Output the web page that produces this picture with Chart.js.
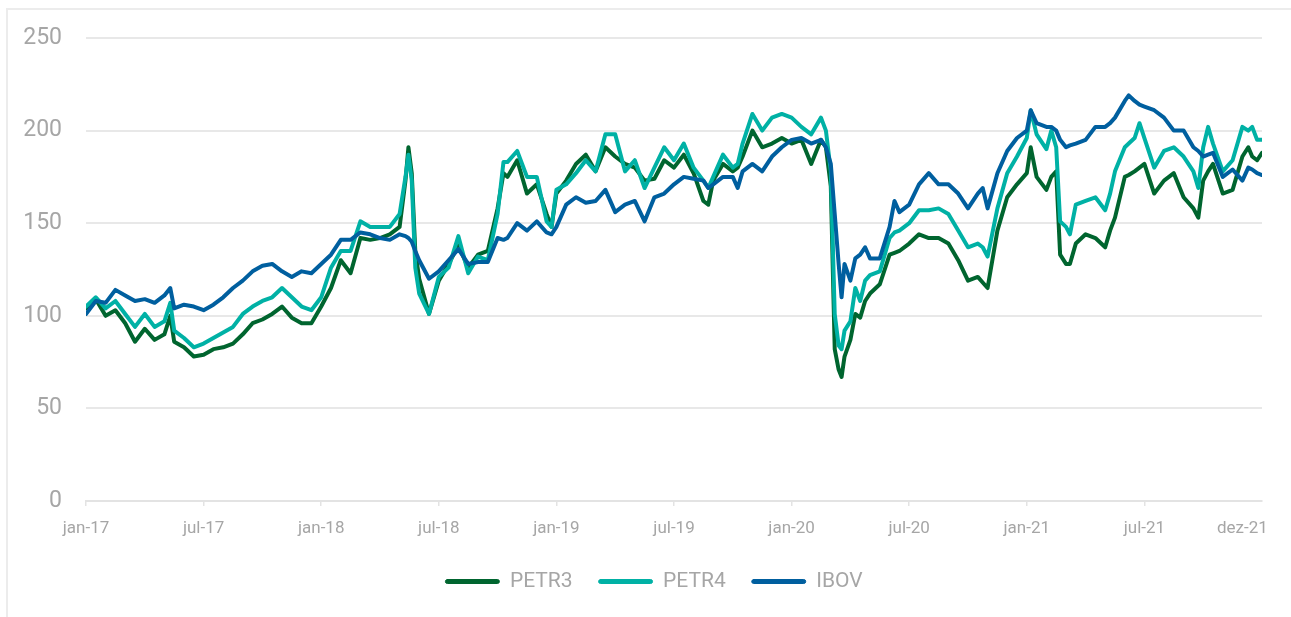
<!DOCTYPE html>
<html>
<head>
<meta charset="utf-8">
<script src="https://cdn.jsdelivr.net/npm/chart.js@4/dist/chart.umd.min.js"></script>
<style>
	html, body { margin: 0; padding: 0; background: #fff; }
	#wrap { position: relative; width: 1291px; height: 617px; overflow: hidden; }
	#frame { position: absolute; left: 6px; top: 8px; right: 0; bottom: 0;
		border-top: 2px solid #ececec; border-left: 2px solid #ececec; }
	#chart { position: absolute; left: 0; top: 0; }
</style>
</head>
<body>
<div id="wrap">
	<div id="frame"></div>
	<canvas id="chart" width="1291" height="617"></canvas>
</div>
<script>
// months since jan-17 for each observation
const months = [
	0, 0.5, 1, 1.5, 2, 2.5, 3, 3.5, 4, 4.3, 4.5, 5, 5.5, 6, 6.5, 7, 7.5, 8, 8.5, 9, 9.5,
	10, 10.5, 11, 11.5, 12, 12.5, 13, 13.5, 14, 14.5, 15, 15.5, 16, 16.3, 16.45, 16.62, 16.8, 17, 17.5,
	18, 18.5, 19, 19.5, 20, 20.5, 21, 21.3, 21.5, 22, 22.5, 23, 23.5, 23.75,
	24, 24.5, 25, 25.5, 26, 26.5, 27, 27.5, 28, 28.5, 29, 29.5,
	30, 30.5, 31, 31.5, 31.75, 32, 32.5, 33, 33.25, 33.5, 34, 34.5, 35, 35.5,
	36, 36.5, 37, 37.5, 37.75, 38, 38.2, 38.4, 38.55, 38.7, 39, 39.25, 39.5, 39.75, 40, 40.5, 41, 41.25, 41.5,
	42, 42.5, 43, 43.5, 44, 44.5, 45, 45.5, 45.75, 46, 46.5, 47, 47.5,
	48, 48.2, 48.5, 49, 49.25, 49.5, 49.7, 50, 50.2, 50.5, 51, 51.5, 52, 52.25, 52.5, 53, 53.2, 53.5, 53.75,
	54, 54.5, 55, 55.5, 56, 56.5, 56.75, 57, 57.25, 57.5, 58, 58.5, 59, 59.3, 59.5, 59.75, 60
];
const petr3 = [
	104, 109, 100, 103, 96, 86, 93, 87, 90, 100, 86, 83, 78, 79, 82, 83, 85, 90, 96, 98, 101,
	105, 99, 96, 96, 105, 115, 130, 123, 142, 141, 142, 144, 148, 173, 191, 177, 135, 120, 101,
	119, 128, 138, 126, 133, 135, 158, 177, 175, 184, 166, 171, 155, 148,
	166, 173, 182, 187, 178, 191, 186, 182, 180, 173, 174, 184,
	180, 187, 177, 162, 160, 173, 182, 178, 180, 186, 200, 191, 193, 196,
	193, 195, 182, 195, 191, 170, 82, 71, 67, 78, 87, 101, 99, 108, 112, 117, 133, 134, 135,
	139, 144, 142, 142, 139, 130, 119, 121, 118, 115, 146, 164, 171,
	177, 191, 175, 168, 175, 178, 133, 128, 128, 139, 144, 142, 137, 146, 153, 175, 176, 178, 180,
	182, 166, 173, 177, 164, 158, 153, 173, 178, 182, 166, 168, 186, 191, 186, 184, 188
];
const petr4 = [
	105, 110, 104, 108, 101, 94, 101, 94, 97, 107, 92, 88, 83, 85, 88, 91, 94, 101, 105, 108, 110,
	115, 110, 105, 103, 110, 126, 135, 135, 151, 148, 148, 148, 155, 175, 187, 173, 126, 112, 101,
	121, 126, 143, 123, 132, 130, 155, 183, 183, 189, 175, 175, 151, 148,
	168, 171, 177, 184, 178, 198, 198, 178, 184, 169, 180, 191,
	184, 193, 180, 173, 169, 175, 187, 180, 182, 193, 209, 200, 207, 209,
	207, 202, 198, 207, 200, 178, 101, 84, 82, 92, 97, 115, 108, 119, 122, 124, 142, 145, 146,
	150, 157, 157, 158, 155, 146, 137, 139, 137, 132, 158, 177, 186,
	196, 211, 198, 190, 200, 191, 151, 148, 144, 160, 162, 164, 157, 166, 178, 191, 193, 196, 204,
	196, 180, 189, 191, 186, 178, 169, 191, 202, 193, 178, 184, 202, 200, 202, 195, 195
];
const ibov = [
	101, 108, 107, 114, 111, 108, 109, 107, 111, 115, 104, 106, 105, 103, 106, 110, 115, 119, 124, 127, 128,
	124, 121, 124, 123, 128, 133, 141, 141, 145, 144, 142, 141, 144, 143, 142, 140, 135, 130, 120,
	124, 130, 136, 128, 129, 129, 142, 141, 142, 150, 146, 151, 145, 144,
	148, 160, 164, 161, 162, 168, 156, 160, 162, 151, 164, 166,
	171, 175, 174, 173, 169, 171, 175, 175, 169, 178, 182, 178, 186, 191,
	195, 196, 193, 195, 191, 182, 155, 128, 110, 128, 119, 131, 133, 137, 131, 131, 148, 162, 156,
	160, 171, 177, 171, 171, 166, 158, 166, 169, 158, 177, 189, 196,
	200, 211, 204, 202, 202, 200, 195, 191, 192, 193, 195, 202, 202, 204, 207, 216, 219, 216, 214,
	213, 211, 207, 200, 200, 191, 189, 186, 187, 188, 175, 179, 173, 180, 179, 177, 176
];
const tickMonths = [0, 6, 12, 18, 24, 30, 36, 42, 48, 54, 59];
const tickLabels = ['jan-17', 'jul-17', 'jan-18', 'jul-18', 'jan-19', 'jul-19', 'jan-20', 'jul-20', 'jan-21', 'jul-21', 'dez-21'];

const GREY = '#a6a6a6';
const FONT = 'Roboto, "Noto Sans", sans-serif';

function pts(values){
	return values.map((v, i) => ({ x: months[i], y: v }));
}
function line(label, values, color){
	return {
		label: label,
		data: pts(values),
		borderColor: color,
		backgroundColor: color,
		borderWidth: 4,
		pointRadius: 0,
		tension: 0,
		borderJoinStyle: 'round',
		borderCapStyle: 'round'
	};
}

// legend sits a little right of the canvas centre in the original
const shiftLegend = {
	id: 'shiftLegend',
	afterLayout(chart){
		if(!chart.legend) return;
		chart.legend.left += 20;
		chart.legend.right += 20;
	}
};

new Chart(document.getElementById('chart').getContext('2d'), {
	type: 'line',
	data: {
		// IBOV first so it is drawn on top; legend is reversed
		datasets: [
			line('IBOV', ibov, '#005f9f'),
			line('PETR4', petr4, '#00b1a5'),
			line('PETR3', petr3, '#00652f')
		]
	},
	plugins: [shiftLegend],
	options: {
		responsive: false,
		animation: false,
		layout: { padding: { left: 6, right: 29, top: 38, bottom: 15 } },
		plugins: {
			tooltip: { enabled: false },
			legend: {
				position: 'bottom',
				reverse: true,
				labels: {
					color: GREY,
					font: { family: FONT, size: 21 },
					boxWidth: 54,
					boxHeight: 4,
					padding: 26,
					useBorderRadius: true,
					borderRadius: 2,
					generateLabels(chart){
						const items = Chart.defaults.plugins.legend.labels.generateLabels(chart);
						items.forEach(it => { it.lineWidth = 1; });
						return items;
					}
				}
			}
		},
		scales: {
			x: {
				type: 'linear',
				min: 0,
				max: 60,
				afterBuildTicks(scale){
					scale.ticks = tickMonths.map(v => ({ value: v }));
				},
				afterFit(scale){ scale.height = 44; },
				ticks: {
					autoSkip: false,
					maxRotation: 0,
					padding: 13,
					color: GREY,
					font: { family: FONT, size: 17 },
					callback(value){
						const i = tickMonths.indexOf(value);
						return i >= 0 ? tickLabels[i] : '';
					}
				},
				grid: {
					drawOnChartArea: false,
					drawTicks: true,
					tickLength: 5,
					lineWidth: 1.5,
					color(ctx){
						return ctx.tick && ctx.tick.value === 59 ? 'rgba(0,0,0,0)' : '#e3e3e3';
					}
				},
				border: { display: true, color: '#e3e3e3', width: 2 }
			},
			y: {
				min: 0,
				max: 250,
				afterFit(scale){ scale.width = 80; },
				ticks: {
					stepSize: 50,
					padding: 24,
					color: GREY,
					font: { family: FONT, size: 23 }
				},
				grid: {
					drawTicks: false,
					color: '#e8e8e8',
					lineWidth: 2
				},
				border: { display: false }
			}
		}
	}
});
</script>
</body>
</html>
